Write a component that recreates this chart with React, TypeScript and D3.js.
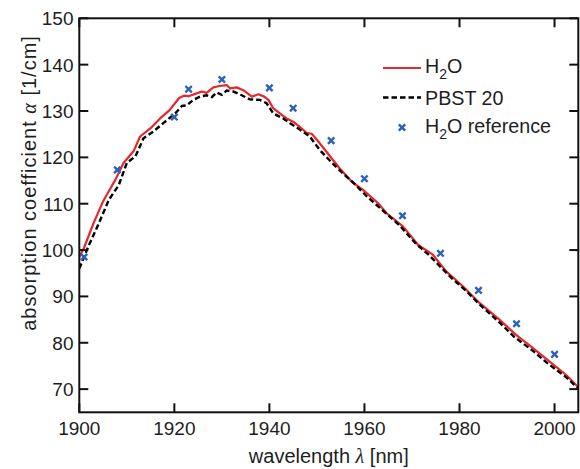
import React from "react";
import * as d3 from "d3";

const h2oWl = [1900, 1901, 1903, 1905, 1906, 1907.6, 1909.3, 1911.4, 1912.8, 1915, 1917, 1919, 1921, 1922, 1923, 1924.4, 1925.8, 1926.8, 1928.2, 1929.5, 1931, 1931.7, 1933.1, 1934.5, 1936.3, 1937.7, 1938.9, 1939.8, 1940.8, 1942.2, 1943.6, 1945, 1946.4, 1947.8, 1948.9, 1950, 1952, 1954.8, 1957.5, 1959.7, 1962.9, 1964.6, 1968.1, 1971.3, 1974.4, 1977.2, 1980.7, 1984.2, 1988.4, 1991.9, 1995.4, 1998.9, 2002.4, 2005];
const h2oVal = [98.5, 100.5, 105.8, 110.5, 112.3, 115.2, 118.8, 121.3, 124.5, 126.3, 128.4, 130.2, 132.8, 133.3, 133.2, 133.7, 134.2, 133.9, 135.1, 135.4, 135.6, 134.9, 135.1, 134.5, 133.1, 133.6, 133.1, 132.4, 130.6, 129.5, 128.4, 127.7, 126.6, 125.3, 125.1, 123.8, 121.2, 117.6, 114.6, 113, 110.1, 108, 105.1, 101.1, 99, 95.4, 92.2, 88.6, 85, 81.7, 78.9, 76, 73.1, 70.4];

const pbstWl = [1900, 1902, 1904, 1906.2, 1908.3, 1910, 1911.8, 1913.5, 1915.6, 1917.7, 1920.2, 1921.6, 1922.6, 1924, 1925.4, 1926.8, 1927.9, 1928.9, 1930, 1931, 1932.4, 1933.8, 1935.9, 1938, 1939.4, 1940.8, 1942.9, 1944.3, 1946.4, 1948.5, 1950.6, 1953, 1955.5, 1957.6, 1960.4, 1963.9, 1967.4, 1970.9, 1973.5, 1975.8, 1978.5, 1981.4, 1984.5, 1988.4, 1991.5, 1995.4, 1998.5, 2002.4, 2005];
const pbstVal = [96, 101, 105.5, 110.8, 114, 118.8, 120.2, 124.1, 125.6, 127.4, 129.5, 131.1, 131.2, 132.4, 133.1, 133.4, 133.0, 134.0, 133.5, 134.4, 134.2, 133.6, 132.5, 132.4, 131.7, 129.5, 128.4, 127.4, 126, 124.5, 121.6, 119, 116.5, 114.6, 111.7, 108.5, 105.3, 101.3, 99, 96.6, 93.8, 91.2, 88, 84.4, 81.3, 78.3, 75.6, 72.6, 70.1];

const refWl = [1901, 1908, 1920, 1923, 1930, 1940, 1945, 1953, 1960, 1968, 1976, 1984, 1992, 2000];
const refVal = [98.5, 117.3, 128.7, 134.7, 136.8, 135.0, 130.6, 123.6, 115.4, 107.4, 99.3, 91.3, 84.1, 77.5];

const xTicks = [1900, 1920, 1940, 1960, 1980, 2000];
const yTicks = [70, 80, 90, 100, 110, 120, 130, 140, 150];

const FONT = "'Liberation Sans', Arial, sans-serif";
const RED = "#e8262b";
const BLUE = "#2b62b8";
const TXT = "#1e1e1e";

export default function App() {
  const W = 580, H = 469;
  const left = 79.3, right = 578.3, top = 18.3, bottom = 412.3;
  const x = d3.scaleLinear().domain([1900, 2005]).range([left, right]);
  const y = d3.scaleLinear().domain([65, 150]).range([bottom, top]);
  const line = d3.line<[number, number]>().x((d) => x(d[0])).y((d) => y(d[1]));
  const h2o = line(h2oWl.map((w, i) => [w, h2oVal[i]] as [number, number])) || "";
  const pbst = line(pbstWl.map((w, i) => [w, pbstVal[i]] as [number, number])) || "";
  const tl = 9;
  const ms = 3.2;

  const cross = (cx: number, cy: number, key: string | number) => (
    <g key={key} stroke={BLUE} strokeWidth={2.4} strokeLinecap="butt">
      <line x1={cx - ms} y1={cy - ms} x2={cx + ms} y2={cy + ms} />
      <line x1={cx - ms} y1={cy + ms} x2={cx + ms} y2={cy - ms} />
    </g>
  );

  return (
    <svg width={W} height={H} style={{ position: "absolute", left: 0, top: 0, background: "#fff" }} fontFamily={FONT}>
      <defs>
        <clipPath id="plotclip">
          <rect x={left} y={top} width={right - left} height={bottom - top} />
        </clipPath>
      </defs>
      <g clipPath="url(#plotclip)">
        <path d={h2o} fill="none" stroke={RED} strokeWidth={2.2} strokeLinejoin="round" />
        <path d={pbst} fill="none" stroke="#000" strokeWidth={2.4} strokeDasharray="5.5,3" />
        {refWl.map((w, i) => cross(x(w), y(refVal[i]), i))}
      </g>
      <rect x={left} y={top} width={right - left} height={bottom - top} fill="none" stroke="#111" strokeWidth={2} />
      {xTicks.map((t) => (
        <g key={"x" + t}>
          <line x1={x(t)} x2={x(t)} y1={bottom} y2={bottom - tl} stroke="#111" strokeWidth={2} />
          <line x1={x(t)} x2={x(t)} y1={top} y2={top + tl} stroke="#111" strokeWidth={2} />
          <text x={x(t)} y={434.5} textAnchor="middle" fontSize={19} fill={TXT}>{t}</text>
        </g>
      ))}
      {yTicks.map((t) => (
        <g key={"y" + t}>
          <line x1={left} x2={left + tl} y1={y(t)} y2={y(t)} stroke="#111" strokeWidth={2} />
          <line x1={right} x2={right - tl} y1={y(t)} y2={y(t)} stroke="#111" strokeWidth={2} />
          <text x={73.5} y={y(t) + 7} textAnchor="end" fontSize={19} fill={TXT}>{t}</text>
        </g>
      ))}
      <text x={(left + right) / 2} y={463} textAnchor="middle" fontSize={20} fill={TXT}>
        wavelength <tspan fontFamily="'Liberation Serif', serif" fontStyle="italic">λ</tspan> [nm]
      </text>
      <text transform={`translate(36,183) rotate(-90)`} textAnchor="middle" fontSize={20} letterSpacing={1} fill={TXT}>
        absorption coefficient <tspan fontFamily="'Liberation Serif', serif" fontStyle="italic">α</tspan> [1/cm]
      </text>
      <line x1={383} x2={421} y1={68} y2={68} stroke={RED} strokeWidth={2.2} />
      <text x={425} y={73} fontSize={19.7} fill={TXT}>H<tspan fontSize={14} dy={6}>2</tspan><tspan dy={-6}>O</tspan></text>
      <line x1={383} x2={421} y1={97.5} y2={97.5} stroke="#000" strokeWidth={2.4} strokeDasharray="5.5,3" />
      <text x={425} y={104.5} fontSize={19.7} fill={TXT}>PBST 20</text>
      {cross(402, 127.5, "leg")}
      <text x={425} y={133} fontSize={19.7} fill={TXT}>H<tspan fontSize={14} dy={6}>2</tspan><tspan dy={-6}>O reference</tspan></text>
    </svg>
  );
}
